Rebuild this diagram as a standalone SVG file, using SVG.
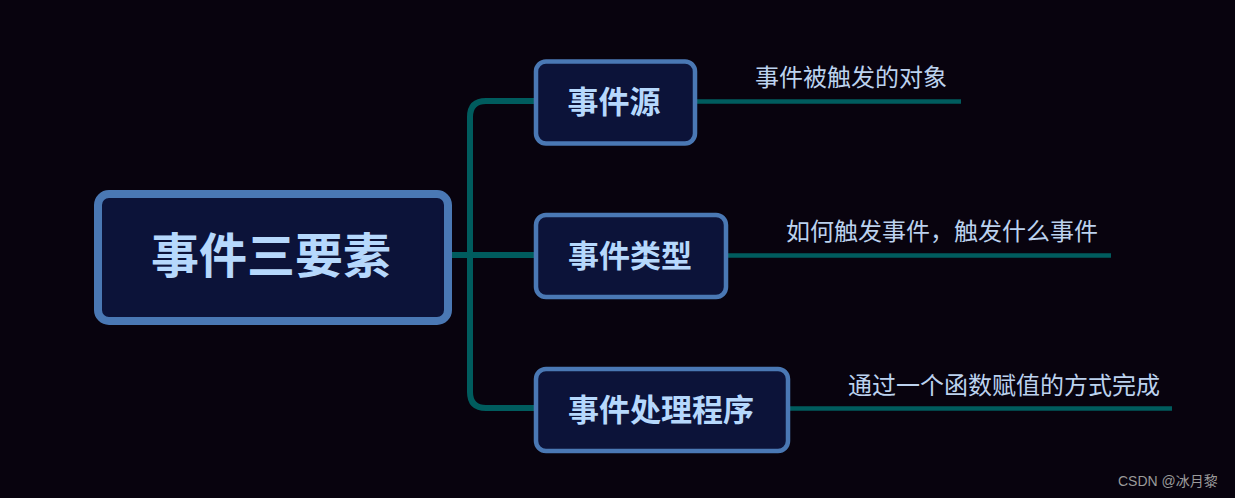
<svg xmlns="http://www.w3.org/2000/svg" width="1235" height="498" viewBox="0 0 1235 498">
<style>
.bg{fill:#08030e}
.conn{fill:none;stroke:#005c5e;stroke-width:6;stroke-linecap:butt}
.sub{fill:none;stroke:#005c5e;stroke-width:4.5}
.box{fill:#0c1339;stroke:#4a78b4}
.t{font-family:"Noto Sans CJK SC","Noto Sans",sans-serif;font-weight:bold;fill:#b6d8fc;text-anchor:middle}
.lbl{font-family:"Noto Sans CJK SC","Noto Sans",sans-serif;font-size:24px;fill:#bcd2ee}
.wm{font-family:"Liberation Sans","Noto Sans CJK SC",sans-serif;font-size:14px;fill:#9a9a9a}
</style>
<rect class="bg" x="0" y="0" width="1235" height="498"/>
<g id="connectors">
<path class="conn" d="M534,101 H486 Q470,101 470,117 V392 Q470,408 486,408 H534"/>
<path class="conn" d="M450,255 H534"/>
<path class="sub" d="M696,101.5 H961"/>
<path class="sub" d="M727,255.5 H1111"/>
<path class="sub" d="M789,408.5 H1172"/>
</g>
<g id="root">
<rect class="box" x="98" y="194" width="350" height="127" rx="11" stroke-width="8"/>
<text class="t" x="271" y="273" font-size="48">事件三要素</text>
</g>
<g id="n1">
<rect class="box" x="536" y="61.5" width="159" height="82" rx="10" stroke-width="4.5"/>
<text class="t" x="614" y="113" font-size="31">事件源</text>
</g>
<g id="n2">
<rect class="box" x="536" y="215" width="190" height="82" rx="10" stroke-width="4.5"/>
<text class="t" x="630" y="267" font-size="31">事件类型</text>
</g>
<g id="n3">
<rect class="box" x="536" y="369" width="252" height="82" rx="10" stroke-width="4.5"/>
<text class="t" x="661" y="421" font-size="31">事件处理程序</text>
</g>
<g id="labels">
<text class="lbl" x="755" y="86">事件被触发的对象</text>
<text class="lbl" x="786" y="240">如何触发事件，触发什么事件</text>
<text class="lbl" x="848" y="394">通过一个函数赋值的方式完成</text>
</g>
<text class="wm" x="1118" y="486">CSDN @冰月黎</text>
</svg>
